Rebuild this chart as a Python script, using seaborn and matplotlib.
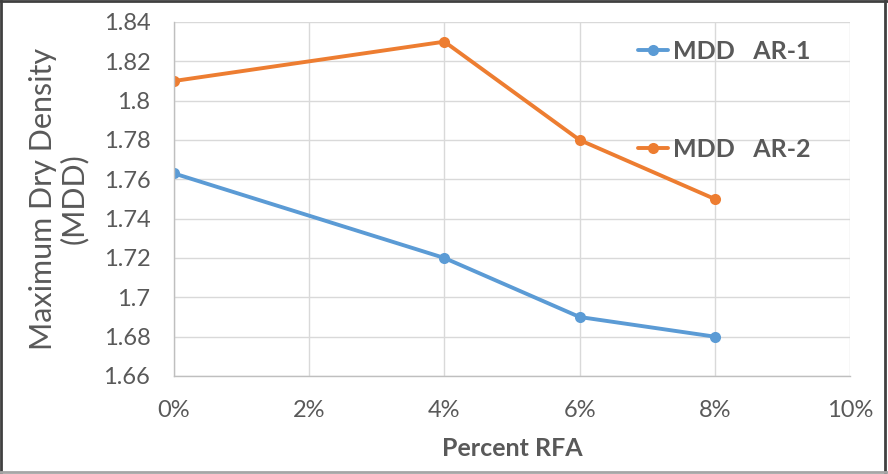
import matplotlib
matplotlib.use("Agg")
import matplotlib.pyplot as plt
import seaborn as sns
import pandas as pd
from matplotlib.lines import Line2D
from matplotlib.ticker import FuncFormatter

# Compaction results: maximum dry density vs. RFA content
rfa_percent = [0, 4, 6, 8]
mdd_ar1 = [1.763, 1.72, 1.69, 1.68]
mdd_ar2 = [1.81, 1.83, 1.78, 1.75]
series_labels = ["MDD   AR-1", "MDD   AR-2"]
series_colors = ["#5B9BD5", "#ED7D31"]
x_ticks = [0, 2, 4, 6, 8, 10]
y_ticks = [1.66, 1.68, 1.70, 1.72, 1.74, 1.76, 1.78, 1.80, 1.82, 1.84]

df = pd.DataFrame({
    "rfa": rfa_percent * 2,
    "mdd": mdd_ar1 + mdd_ar2,
    "series": [series_labels[0]] * len(rfa_percent) + [series_labels[1]] * len(rfa_percent),
})

sns.set_theme(style="white")
plt.rcParams["font.family"] = ["Lato", "DejaVu Sans"]

text_color = "#595959"
grid_color = "#D9D9D9"

fig = plt.figure(figsize=(8.88, 4.74), dpi=100)
ax = fig.add_axes([174 / 888, 1 - 376 / 474, (850 - 174) / 888, (376 - 22) / 474])

sns.lineplot(data=df, x="rfa", y="mdd", hue="series", palette=series_colors,
             marker="o", markersize=8, markeredgewidth=0, linewidth=2.8,
             ax=ax, legend=True)

ax.set_xlim(0, 10)
ax.set_ylim(1.66, 1.84)
ax.set_xticks(x_ticks)
ax.set_yticks(y_ticks)
ax.xaxis.set_major_formatter(FuncFormatter(lambda v, _: f"{v:.0f}%"))
ax.yaxis.set_major_formatter(FuncFormatter(lambda v, _: f"{v:.2f}".rstrip("0").rstrip(".")))
ax.tick_params(axis="both", length=0, labelsize=17, colors=text_color)
ax.tick_params(axis="x", pad=17)
ax.tick_params(axis="y", pad=17)

ax.grid(True, color=grid_color, linewidth=1.0)
ax.set_axisbelow(True)
for side in ["top", "right"]:
    ax.spines[side].set_visible(False)
for side in ["left", "bottom"]:
    ax.spines[side].set_color("#BFBFBF")
    ax.spines[side].set_linewidth(1.0)

ax.set_xlabel("Percent RFA", fontsize=18, fontweight="bold", color=text_color, labelpad=12)
ax.set_ylabel("Maximum Dry Density\n(MDD)", fontsize=22, color=text_color, labelpad=11,
              linespacing=1.12)

leg = ax.legend(loc="upper left", bbox_to_anchor=(638 / 888, 1 - 40 / 474),
                bbox_transform=fig.transFigure, frameon=False,
                borderaxespad=0, borderpad=0,
                labelspacing=3.0, handlelength=1.2, handletextpad=0.2,
                prop={"size": 18, "weight": "bold"})
for t in leg.get_texts():
    t.set_color(text_color)

# Chart frame: dark on top/left/right, light along the bottom
frame = [
    ((0.001, 0.001), (0.0, 1.0), "#404040"),
    ((0.0, 1.0), (0.998, 0.998), "#404040"),
    ((0.997, 0.997), (0.0, 1.0), "#404040"),
    ((0.0, 1.0), (0.005, 0.005), "#A6A6A6"),
]
for xs, ys, c in frame:
    fig.add_artist(Line2D(xs, ys, transform=fig.transFigure, color=c, linewidth=2))

fig.savefig("out.png", dpi=100)
